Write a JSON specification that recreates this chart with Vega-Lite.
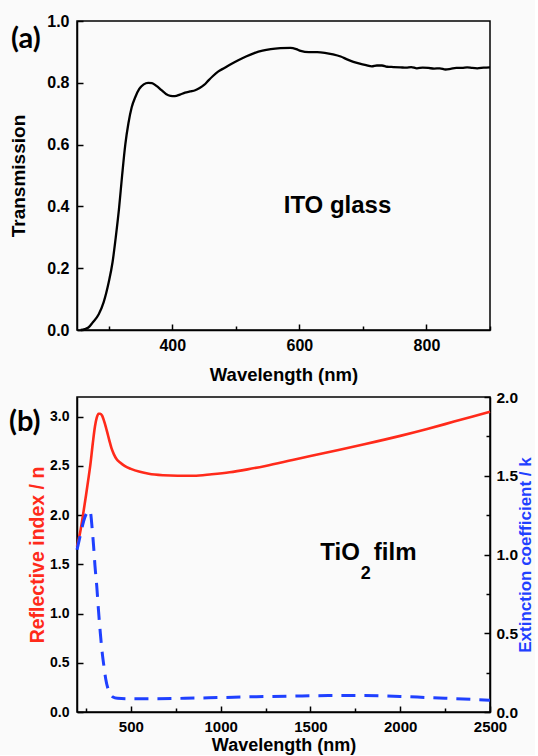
{
  "$schema": "https://vega.github.io/schema/vega-lite/v6.json",
  "background": "#fafafa",
  "padding": {"left": 8, "top": 12, "right": 0, "bottom": 0},
  "spacing": 67,
  "bounds": "flush",
  "config": {
    "font": "Liberation Sans",
    "view": {"stroke": "#000", "strokeWidth": 1.5},
    "axis": {"domainColor": "#000", "domainWidth": 1.5, "tickColor": "#000", "tickWidth": 1.5, "labelColor": "#000", "labelFont": "Liberation Sans", "labelFontWeight": "bold", "titleFont": "Liberation Sans", "titleFontWeight": "bold", "titleColor": "#000", "grid": false, "labelFlush": false, "labelOverlap": false}
  },
  "datasets": {
    "ito": [
      {"wavelength": 256, "transmission": 0.0},
      {"wavelength": 262, "transmission": 0.003},
      {"wavelength": 268, "transmission": 0.008},
      {"wavelength": 275, "transmission": 0.025},
      {"wavelength": 284, "transmission": 0.05},
      {"wavelength": 292, "transmission": 0.09},
      {"wavelength": 300, "transmission": 0.155},
      {"wavelength": 306, "transmission": 0.22},
      {"wavelength": 311, "transmission": 0.3},
      {"wavelength": 316, "transmission": 0.39},
      {"wavelength": 321, "transmission": 0.5},
      {"wavelength": 326, "transmission": 0.6},
      {"wavelength": 331, "transmission": 0.67},
      {"wavelength": 336, "transmission": 0.72},
      {"wavelength": 342, "transmission": 0.755},
      {"wavelength": 348, "transmission": 0.78},
      {"wavelength": 355, "transmission": 0.795},
      {"wavelength": 362, "transmission": 0.8},
      {"wavelength": 368, "transmission": 0.799},
      {"wavelength": 375, "transmission": 0.79},
      {"wavelength": 383, "transmission": 0.776},
      {"wavelength": 390, "transmission": 0.764},
      {"wavelength": 397, "transmission": 0.758},
      {"wavelength": 404, "transmission": 0.757},
      {"wavelength": 412, "transmission": 0.762},
      {"wavelength": 420, "transmission": 0.768},
      {"wavelength": 428, "transmission": 0.772},
      {"wavelength": 436, "transmission": 0.776},
      {"wavelength": 443, "transmission": 0.783},
      {"wavelength": 450, "transmission": 0.793},
      {"wavelength": 457, "transmission": 0.808},
      {"wavelength": 464, "transmission": 0.822},
      {"wavelength": 472, "transmission": 0.836},
      {"wavelength": 482, "transmission": 0.848},
      {"wavelength": 492, "transmission": 0.86},
      {"wavelength": 503, "transmission": 0.872},
      {"wavelength": 516, "transmission": 0.885},
      {"wavelength": 529, "transmission": 0.896},
      {"wavelength": 542, "transmission": 0.904},
      {"wavelength": 555, "transmission": 0.909},
      {"wavelength": 570, "transmission": 0.912},
      {"wavelength": 586, "transmission": 0.913},
      {"wavelength": 595, "transmission": 0.909},
      {"wavelength": 602, "transmission": 0.903},
      {"wavelength": 615, "transmission": 0.899},
      {"wavelength": 628, "transmission": 0.899},
      {"wavelength": 640, "transmission": 0.897},
      {"wavelength": 653, "transmission": 0.892},
      {"wavelength": 665, "transmission": 0.885},
      {"wavelength": 675, "transmission": 0.876},
      {"wavelength": 685, "transmission": 0.868},
      {"wavelength": 695, "transmission": 0.862},
      {"wavelength": 705, "transmission": 0.857},
      {"wavelength": 714, "transmission": 0.853},
      {"wavelength": 722, "transmission": 0.856},
      {"wavelength": 730, "transmission": 0.856},
      {"wavelength": 738, "transmission": 0.852},
      {"wavelength": 748, "transmission": 0.851},
      {"wavelength": 759, "transmission": 0.85},
      {"wavelength": 768, "transmission": 0.849},
      {"wavelength": 776, "transmission": 0.851},
      {"wavelength": 785, "transmission": 0.847},
      {"wavelength": 794, "transmission": 0.849},
      {"wavelength": 803, "transmission": 0.848},
      {"wavelength": 812, "transmission": 0.846},
      {"wavelength": 821, "transmission": 0.847},
      {"wavelength": 830, "transmission": 0.843},
      {"wavelength": 838, "transmission": 0.845},
      {"wavelength": 847, "transmission": 0.848},
      {"wavelength": 856, "transmission": 0.848},
      {"wavelength": 864, "transmission": 0.85},
      {"wavelength": 872, "transmission": 0.848},
      {"wavelength": 880, "transmission": 0.847},
      {"wavelength": 890, "transmission": 0.849},
      {"wavelength": 900, "transmission": 0.85}
    ],
    "refr": [
      {"wavelength": 200, "n": 1.68},
      {"wavelength": 210, "n": 1.76},
      {"wavelength": 220, "n": 1.85},
      {"wavelength": 235, "n": 2.02},
      {"wavelength": 250, "n": 2.2},
      {"wavelength": 262, "n": 2.35},
      {"wavelength": 275, "n": 2.52},
      {"wavelength": 288, "n": 2.73},
      {"wavelength": 300, "n": 2.9},
      {"wavelength": 310, "n": 2.99},
      {"wavelength": 320, "n": 3.03},
      {"wavelength": 330, "n": 3.03},
      {"wavelength": 340, "n": 3.01},
      {"wavelength": 350, "n": 2.96},
      {"wavelength": 360, "n": 2.9},
      {"wavelength": 370, "n": 2.83},
      {"wavelength": 380, "n": 2.76},
      {"wavelength": 392, "n": 2.68},
      {"wavelength": 405, "n": 2.62},
      {"wavelength": 420, "n": 2.57},
      {"wavelength": 440, "n": 2.535},
      {"wavelength": 465, "n": 2.5},
      {"wavelength": 500, "n": 2.47},
      {"wavelength": 550, "n": 2.44},
      {"wavelength": 600, "n": 2.42},
      {"wavelength": 680, "n": 2.405},
      {"wavelength": 760, "n": 2.4},
      {"wavelength": 850, "n": 2.4},
      {"wavelength": 950, "n": 2.415},
      {"wavelength": 1050, "n": 2.435},
      {"wavelength": 1150, "n": 2.465},
      {"wavelength": 1250, "n": 2.5},
      {"wavelength": 1400, "n": 2.56},
      {"wavelength": 1500, "n": 2.6},
      {"wavelength": 1650, "n": 2.66},
      {"wavelength": 1800, "n": 2.72},
      {"wavelength": 2000, "n": 2.805},
      {"wavelength": 2150, "n": 2.875},
      {"wavelength": 2300, "n": 2.95},
      {"wavelength": 2500, "n": 3.05}
    ],
    "ext": [
      {"wavelength": 200, "k": 1.03},
      {"wavelength": 210, "k": 1.08},
      {"wavelength": 220, "k": 1.13},
      {"wavelength": 232, "k": 1.19},
      {"wavelength": 245, "k": 1.24},
      {"wavelength": 258, "k": 1.27},
      {"wavelength": 268, "k": 1.28},
      {"wavelength": 276, "k": 1.26},
      {"wavelength": 284, "k": 1.17},
      {"wavelength": 292, "k": 1.06},
      {"wavelength": 300, "k": 0.93},
      {"wavelength": 310, "k": 0.8},
      {"wavelength": 320, "k": 0.64},
      {"wavelength": 330, "k": 0.5},
      {"wavelength": 340, "k": 0.38},
      {"wavelength": 350, "k": 0.29},
      {"wavelength": 360, "k": 0.21},
      {"wavelength": 372, "k": 0.15},
      {"wavelength": 385, "k": 0.115},
      {"wavelength": 400, "k": 0.095},
      {"wavelength": 425, "k": 0.087},
      {"wavelength": 500, "k": 0.084},
      {"wavelength": 600, "k": 0.084},
      {"wavelength": 800, "k": 0.087},
      {"wavelength": 1000, "k": 0.092},
      {"wavelength": 1200, "k": 0.097},
      {"wavelength": 1400, "k": 0.101},
      {"wavelength": 1600, "k": 0.104},
      {"wavelength": 1800, "k": 0.104},
      {"wavelength": 2000, "k": 0.099},
      {"wavelength": 2150, "k": 0.092},
      {"wavelength": 2300, "k": 0.085},
      {"wavelength": 2500, "k": 0.075}
    ]
  },
  "vconcat": [
    {
      "width": 413,
      "height": 309,
      "layer": [
        {
          "data": {"name": "ito"},
          "mark": {"type": "line", "color": "#000", "strokeWidth": 2.3, "interpolate": "monotone"},
          "encoding": {
            "x": {
              "field": "wavelength", "type": "quantitative",
              "scale": {"domain": [250, 900], "nice": false, "zero": false},
              "axis": {
                "values": [300, 400, 500, 600, 700, 800, 900],
                "format": "d",
                "labelExpr": "datum.value % 200 == 0 ? datum.label : ''",
                "tickSize": {"condition": {"test": "datum.value % 200 != 0", "value": -4}, "value": -6},
                "labelPadding": 13, "labelFontSize": 16,
                "title": "Wavelength (nm)", "titleFontSize": 18.5, "titlePadding": 10
              }
            },
            "y": {
              "field": "transmission", "type": "quantitative",
              "scale": {"domain": [0, 1], "nice": false},
              "axis": {
                "values": [0, 0.1, 0.2, 0.3, 0.4, 0.5, 0.6, 0.7, 0.8, 0.9, 1.0],
                "labelExpr": "round(datum.value * 10) % 2 == 0 ? format(datum.value, '.1f') : ''",
                "tickSize": {"condition": {"test": "round(datum.value * 10) % 2 != 0", "value": -4}, "value": -6},
                "labelPadding": 14, "labelFontSize": 16,
                "title": "Transmission", "titleFontSize": 19, "titlePadding": 18
              }
            }
          }
        },
        {
          "data": {"values": [{}]},
          "mark": {"type": "text", "text": "ITO glass", "font": "Liberation Sans", "fontWeight": "bold", "fontSize": 24, "align": "center", "baseline": "alphabetic"},
          "encoding": {
            "x": {"datum": 660, "type": "quantitative"},
            "y": {"datum": 0.38, "type": "quantitative"}
          }
        },
        {
          "data": {"values": [{}]},
          "mark": {"type": "text", "text": "(a)", "font": "Lato", "fontWeight": "bold", "fontSize": 29, "align": "left", "baseline": "alphabetic", "dx": -66},
          "encoding": {
            "x": {"datum": 250, "type": "quantitative"},
            "y": {"datum": 0.913, "type": "quantitative"}
          }
        }
      ]
    },
    {
      "width": 413,
      "height": 315,
      "resolve": {"scale": {"y": "independent"}},
      "layer": [
        {
          "layer": [
            {
              "data": {"name": "refr"},
              "mark": {"type": "line", "color": "#ff2a1a", "strokeWidth": 2.6, "interpolate": "monotone"},
              "encoding": {
                "x": {
                  "field": "wavelength", "type": "quantitative",
                  "scale": {"domain": [200, 2500], "nice": false, "zero": false},
                  "axis": {
                    "values": [250, 500, 750, 1000, 1250, 1500, 1750, 2000, 2250, 2500],
                    "format": "d",
                    "labelExpr": "datum.value % 500 == 0 ? datum.label : ''",
                    "tickSize": {"condition": {"test": "datum.value % 500 != 0", "value": -4}, "value": -6},
                    "labelPadding": 13, "labelFontSize": 15,
                    "title": "Wavelength (nm)", "titleFontSize": 18, "titlePadding": 0
                  }
                },
                "y": {
                  "field": "n", "type": "quantitative",
                  "scale": {"domain": [0, 3.2], "nice": false},
                  "axis": {
                    "orient": "left",
                    "values": [0, 0.25, 0.5, 0.75, 1, 1.25, 1.5, 1.75, 2, 2.25, 2.5, 2.75, 3],
                    "labelExpr": "round(datum.value * 4) % 2 == 0 ? format(datum.value, '.1f') : ''",
                    "tickSize": {"condition": {"test": "round(datum.value * 4) % 2 != 0", "value": -4}, "value": -6},
                    "labelPadding": 14, "labelFontSize": 14,
                    "title": "Reflective index / n", "titleColor": "#ff2a1a", "titleFontSize": 19.5, "titlePadding": 2
                  }
                }
              }
            },
            {
              "data": {"values": [{}]},
              "mark": {"type": "text", "text": "(b)", "font": "Lato", "fontWeight": "bold", "fontSize": 29, "align": "left", "baseline": "alphabetic", "dx": -68},
              "encoding": {
                "x": {"datum": 200, "type": "quantitative"},
                "y": {"datum": 2.859, "type": "quantitative"}
              }
            },
            {
              "data": {"values": [{}]},
              "mark": {"type": "text", "text": "TiO", "font": "Liberation Sans", "fontWeight": "bold", "fontSize": 24, "align": "right", "baseline": "alphabetic"},
              "encoding": {
                "x": {"datum": 1775, "type": "quantitative"},
                "y": {"datum": 1.545, "type": "quantitative"}
              }
            },
            {
              "data": {"values": [{}]},
              "mark": {"type": "text", "text": "2", "font": "Liberation Sans", "fontWeight": "bold", "fontSize": 18, "align": "left", "baseline": "alphabetic", "dx": 1, "dy": 19},
              "encoding": {
                "x": {"datum": 1775, "type": "quantitative"},
                "y": {"datum": 1.545, "type": "quantitative"}
              }
            },
            {
              "data": {"values": [{}]},
              "mark": {"type": "text", "text": "film", "font": "Liberation Sans", "fontWeight": "bold", "fontSize": 24, "align": "left", "baseline": "alphabetic", "dx": 14},
              "encoding": {
                "x": {"datum": 1775, "type": "quantitative"},
                "y": {"datum": 1.545, "type": "quantitative"}
              }
            }
          ]
        },
        {
          "data": {"name": "ext"},
          "mark": {"type": "line", "color": "#1f40ff", "strokeWidth": 3, "strokeDash": [14, 9], "interpolate": "monotone"},
          "encoding": {
            "x": {"field": "wavelength", "type": "quantitative"},
            "y": {
              "field": "k", "type": "quantitative",
              "scale": {"domain": [0, 2], "nice": false},
              "axis": {
                "orient": "right",
                "values": [0, 0.25, 0.5, 0.75, 1, 1.25, 1.5, 1.75, 2],
                "labelExpr": "round(datum.value * 4) % 2 == 0 ? format(datum.value, '.1f') : ''",
                "tickSize": {"condition": {"test": "round(datum.value * 4) % 2 != 0", "value": -4}, "value": -6},
                "labelPadding": 12, "labelFontSize": 15.5,
                "title": "Extinction coefficient / k", "titleColor": "#1f40ff", "titleFontSize": 17, "titlePadding": 0,
                "titleAngle": 270, "titleBaseline": "top"
              }
            }
          }
        }
      ]
    }
  ]
}
